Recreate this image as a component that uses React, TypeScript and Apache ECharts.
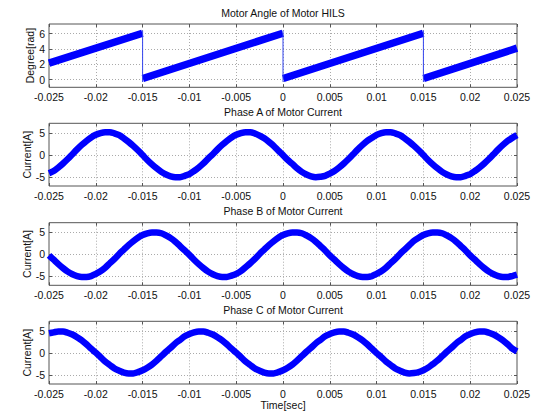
import React, { useEffect, useRef } from "react";
import * as echarts from "echarts";

// time axis samples (ms)
const TIME_MS = [
  -25, -24.5, -24, -23.5, -23, -22.5, -22, -21.5, -21, -20.5, -20, -19.5, -19, -18.5, -18, -17.5, -17, -16.5, -16, -15.5,
  -15, -14.5, -14, -13.5, -13, -12.5, -12, -11.5, -11, -10.5, -10, -9.5, -9, -8.5, -8, -7.5, -7, -6.5, -6, -5.5,
  -5, -4.5, -4, -3.5, -3, -2.5, -2, -1.5, -1, -0.5, 0, 0.5, 1, 1.5, 2, 2.5, 3, 3.5, 4, 4.5,
  5, 5.5, 6, 6.5, 7, 7.5, 8, 8.5, 9, 9.5, 10, 10.5, 11, 11.5, 12, 12.5, 13, 13.5, 14, 14.5,
  15, 15.5, 16, 16.5, 17, 17.5, 18, 18.5, 19, 19.5, 20, 20.5, 21, 21.5, 22, 22.5, 23, 23.5, 24, 24.5, 25,
];

const PHASE_A = [
  -4.1, -3.6, -2.8, -1.9, -0.9, 0.2, 1.3, 2.3, 3.2, 4.0, 4.6, 5.0, 5.2, 5.2, 4.9, 4.5, 3.8, 3.0, 2.1, 1.1,
  0.0, -1.1, -2.1, -3.0, -3.8, -4.4, -4.8, -5.0, -5.0, -4.7,
  -4.3, -3.6, -2.8, -1.9, -0.8, 0.2, 1.3, 2.3, 3.2, 4.0, 4.6, 5.0, 5.2, 5.2, 4.9, 4.4, 3.8, 3.0, 2.1, 1.0,
  0.0, -1.1, -2.0, -3.0, -3.8, -4.4, -4.8, -5.0, -4.9, -4.7,
  -4.2, -3.6, -2.8, -1.9, -0.9, 0.2, 1.3, 2.3, 3.2, 3.9, 4.6, 5.0, 5.2, 5.2, 4.9, 4.5, 3.8, 3.0, 2.1, 1.1,
  0.0, -1.1, -2.1, -3.0, -3.8, -4.4, -4.8, -5.0, -5.0, -4.7,
  -4.3, -3.6, -2.8, -1.9, -0.9, 0.2, 1.3, 2.3, 3.2, 3.9, 4.5,
];

const PHASE_B = [
  -0.2, -1.2, -2.2, -3.1, -3.9, -4.5, -4.9, -5.1, -5.1, -4.9, -4.4, -3.8, -3.0, -2.0, -1.0, 0.1, 1.1, 2.1, 3.0, 3.8,
  4.4, 4.8, 5.0, 5.0, 4.8, 4.3, 3.7, 2.9, 1.9, 0.9,
  -0.1, -1.2, -2.2, -3.1, -3.9, -4.5, -4.9, -5.1, -5.1, -4.8, -4.4, -3.8, -2.9, -2.0, -1.0, 0.1, 1.1, 2.1, 3.0, 3.8,
  4.4, 4.8, 5.0, 5.0, 4.8, 4.3, 3.7, 2.9, 1.9, 0.9,
  -0.2, -1.2, -2.2, -3.1, -3.9, -4.5, -4.9, -5.1, -5.1, -4.9, -4.4, -3.8, -3.0, -2.0, -1.0, 0.1, 1.1, 2.1, 3.1, 3.8,
  4.4, 4.8, 5.0, 5.0, 4.8, 4.3, 3.7, 2.9, 1.9, 0.9,
  -0.2, -1.2, -2.2, -3.1, -3.9, -4.5, -4.9, -5.1, -5.1, -4.9, -4.6,
];

const PHASE_C = [
  4.5, 4.7, 4.9, 4.9, 4.6, 4.2, 3.6, 2.9, 2.0, 1.0, 0.1, -0.9, -1.9, -2.7, -3.5, -4.0, -4.4, -4.6, -4.6, -4.3,
  -3.9, -3.3, -2.6, -1.7, -0.7, 0.3, 1.2, 2.2, 3.0, 3.8,
  4.3, 4.7, 4.9, 4.9, 4.6, 4.2, 3.6, 2.9, 2.0, 1.0, 0.1, -0.9, -1.9, -2.7, -3.5, -4.0, -4.4, -4.6, -4.6, -4.3,
  -3.9, -3.3, -2.6, -1.7, -0.7, 0.3, 1.2, 2.2, 3.0, 3.8,
  4.3, 4.7, 4.9, 4.9, 4.6, 4.2, 3.6, 2.9, 2.0, 1.0, 0.0, -0.9, -1.9, -2.7, -3.5, -4.0, -4.4, -4.6, -4.5, -4.3,
  -3.9, -3.3, -2.5, -1.7, -0.7, 0.3, 1.2, 2.2, 3.0, 3.8,
  4.3, 4.7, 4.9, 4.9, 4.6, 4.2, 3.6, 2.9, 2.0, 1.0, 0.4,
];

// motor angle ramps: [start t, start v, end t, end v]
const ANGLE_RAMPS = [
  [-0.025, 2.15, -0.01502, 6.05],
  [-0.01498, 0.15, -0.00002, 6.05],
  [0.00002, 0.15, 0.01498, 6.05],
  [0.01502, 0.15, 0.025, 4.1],
];
const ANGLE_JUMPS_T = [-0.015, 0, 0.015];
const JUMP_TOP = 6.4;
const JUMP_BOTTOM = -0.3;

const TITLES = [
  "Motor Angle of Motor HILS",
  "Phase A of Motor Current",
  "Phase B of Motor Current",
  "Phase C of Motor Current",
];
const Y_NAMES = ["Degree[rad]", "Current[A]", "Current[A]", "Current[A]"];
const X_NAME = "Time[sec]";
const ANGLE_TICKS = [0, 2, 4, 6];
const CURRENT_TICKS = [-5, 0, 5];

const FONT = "'Liberation Sans', Arial, Helvetica, sans-serif";

export default function App() {
  const ref = useRef<HTMLDivElement>(null);
  useEffect(() => {
    document.body.style.margin = "0";
    const chart = echarts.init(ref.current!, undefined, { renderer: "svg" });
    const grids = [
      { top: 24, height: 63.3 },
      { top: 123.3, height: 62.7 },
      { top: 222.7, height: 62.6 },
      { top: 321.3, height: 62.7 },
    ];
    const titleTops = [7, 106, 205, 304];
    const yRanges = [
      [-1, 7.25],
      [-7, 7.2],
      [-7, 7.2],
      [-7, 7.2],
    ];
    const times = TIME_MS.map((t) => t / 1000);
    const mk = (vals: number[]) => times.map((t, i) => [t, vals[i]]);

    const angleData: any[] = [];
    ANGLE_RAMPS.forEach((r, i) => {
      if (i > 0) angleData.push([(r[0] + ANGLE_RAMPS[i - 1][2]) / 2, "-"]);
      angleData.push([r[0], r[1]]);
      angleData.push([r[2], r[3]]);
    });
    const jumpData: any[] = [];
    ANGLE_JUMPS_T.forEach((t, i) => {
      if (i > 0) jumpData.push([t - 0.001, "-"]);
      jumpData.push([t, JUMP_TOP]);
      jumpData.push([t, JUMP_BOTTOM]);
    });

    const textColor = "#111";
    const noLine = { show: false, onZero: false };
    const tick = { show: true, inside: true, length: 3, lineStyle: { color: "#555" } };
    const mainX = grids.map((_, i) => ({
      type: "value",
      gridIndex: i,
      position: "bottom",
      min: -0.025,
      max: 0.025,
      interval: 0.005,
      name: i === 3 ? X_NAME : "",
      nameLocation: "middle",
      nameGap: 15,
      nameMoveOverlap: false,
      nameTextStyle: { fontSize: 10.5, color: textColor, fontFamily: FONT },
      axisLine: noLine,
      axisTick: tick,
      axisLabel: {
        margin: 4,
        fontSize: 10.5,
        color: textColor,
        fontFamily: FONT,
        formatter: (v: number) => String(parseFloat(v.toFixed(4))),
      },
      splitLine: { show: true, lineStyle: { color: "#aaa", type: [1, 2], width: 1 } },
    }));
    const topX = grids.map((_, i) => ({
      type: "value",
      gridIndex: i,
      position: "top",
      min: -0.025,
      max: 0.025,
      interval: 0.005,
      axisLine: noLine,
      axisTick: tick,
      axisLabel: { show: false },
      splitLine: { show: false },
    }));
    const mainY = grids.map((_, i) => {
      const ticks = i === 0 ? ANGLE_TICKS : CURRENT_TICKS;
      return {
        type: "value",
        gridIndex: i,
        position: "left",
        min: yRanges[i][0],
        max: yRanges[i][1],
        name: Y_NAMES[i],
        nameLocation: "middle",
        nameGap: i === 0 ? 14 : 17,
        nameRotate: 90,
        nameMoveOverlap: false,
        nameTextStyle: { fontSize: 10.5, color: textColor, fontFamily: FONT },
        axisLine: noLine,
        axisTick: { ...tick, customValues: ticks },
        axisLabel: { margin: 4, fontSize: 10.5, color: textColor, fontFamily: FONT, customValues: ticks },
        splitLine: { show: true, lineStyle: { color: "#aaa", type: [1, 2], width: 1 } },
      };
    });
    const rightY = grids.map((_, i) => {
      const ticks = i === 0 ? ANGLE_TICKS : CURRENT_TICKS;
      return {
        type: "value",
        gridIndex: i,
        position: "right",
        min: yRanges[i][0],
        max: yRanges[i][1],
        axisLine: noLine,
        axisTick: { ...tick, customValues: ticks },
        axisLabel: { show: false, customValues: ticks },
        splitLine: { show: false },
      };
    });

    const option: any = {
      animation: false,
      backgroundColor: "#fff",
      title: TITLES.map((t, i) => ({
        text: t,
        left: 283,
        top: titleTops[i],
        padding: 0,
        textAlign: "center",
        textStyle: { fontSize: 10.5, fontWeight: "normal", color: textColor, fontFamily: FONT },
      })),
      grid: grids.map((g) => ({
        left: 49,
        width: 468,
        top: g.top,
        height: g.height,
        show: true,
        borderColor: "#555",
        borderWidth: 1,
        backgroundColor: "#fff",
      })),
      xAxis: [...mainX, ...topX],
      yAxis: [...mainY, ...rightY],
      series: [
        {
          type: "line",
          xAxisIndex: 0,
          yAxisIndex: 0,
          data: angleData,
          showSymbol: false,
          lineStyle: { color: "#0000ff", width: 7.5 },
          connectNulls: false,
        },
        {
          type: "line",
          xAxisIndex: 0,
          yAxisIndex: 0,
          data: jumpData,
          showSymbol: false,
          lineStyle: { color: "#3344ee", width: 1 },
          connectNulls: false,
        },
        ...[PHASE_A, PHASE_B, PHASE_C].map((vals, k) => ({
          type: "line",
          xAxisIndex: k + 1,
          yAxisIndex: k + 1,
          data: mk(vals),
          smooth: 0.3,
          showSymbol: false,
          lineStyle: { color: "#0000ff", width: 6.5 },
        })),
      ],
    };
    chart.setOption(option);
    return () => chart.dispose();
  }, []);
  return <div ref={ref} style={{ width: 539, height: 414 }} />;
}
